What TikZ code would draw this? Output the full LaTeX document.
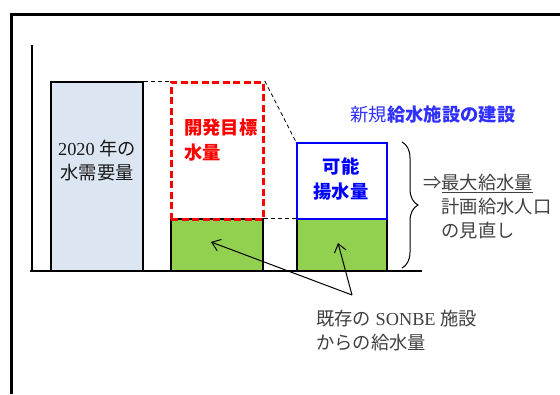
\documentclass[tikz,border=0pt]{standalone}
\usepackage{fontspec}
\newfontfamily\jp{Noto Sans CJK JP}
\newfontfamily\tnr{Liberation Serif}
\usetikzlibrary{arrows.meta,decorations.pathreplacing}
\definecolor{barblue}{HTML}{DCE6F2}
\definecolor{grn}{HTML}{92D050}
\definecolor{txtgray}{HTML}{404040}
\definecolor{hblue}{HTML}{2F2FFF}
\tikzset{
  bar/.style={draw=black, line width=2.4pt, anchor=north west, inner sep=0pt},
  conn/.style={draw=black, line width=0.8pt, dash pattern=on 4pt off 3pt},
  lbl/.style={inner sep=0pt, font=\jp\fontsize{18.3}{24}\selectfont},
  blbl/.style={inner sep=0pt, font=\jp\bfseries\fontsize{18.3}{24.5}\selectfont},
  ptr/.style={draw=black, line width=1pt, -{Straight Barb[length=8pt,width=12pt,line width=1pt]}}
}
\begin{document}
\begin{tikzpicture}[x=1pt,y=-1pt]
\useasboundingbox (0,0) rectangle (560,394);
% frame
\draw[line width=3pt] (11,394) -- (11,14) -- (560,14);
% axes
\coordinate (ax0) at (32,45);
\coordinate (ax1) at (32,271);
\coordinate (bl0) at (30,271);
\coordinate (bl1) at (422,271);
\draw[line width=2pt] (ax0) -- (ax1);
\draw[line width=2pt] (bl0) -- (bl1);
% bars
\node[bar, fill=barblue, minimum width=92pt, minimum height=189pt] (b1) at (50,81) {};
\node[bar, fill=grn, minimum width=92pt, minimum height=52pt] (g1) at (170,218) {};
\node[bar, fill=grn, minimum width=90pt, minimum height=52pt] (g2) at (296,218) {};
\node[draw=red, line width=2.8pt, dash pattern=on 7pt off 3.5pt, anchor=north west, inner sep=0pt, minimum width=92pt, minimum height=137pt] (rb) at (170,81) {};
\node[draw=blue, line width=2.4pt, anchor=north west, inner sep=0pt, minimum width=90pt, minimum height=76pt] (bb) at (296,142) {};
% dashed connectors
\draw[conn] (b1.north east) -- (rb.north west);
\draw[conn] (rb.north east) -- (bb.north west);
\draw[conn] (g1.north east) -- (g2.north west);
% texts in bars
\node[lbl, align=center, text=black!90] (t1) at (97,161) {{\tnr 2020 }年の\\水需要量};
\node[blbl, align=left, text=red, anchor=north west] (t2) at (184,119) {開発目標\\水量};
\node[blbl, align=center, text=blue] (t3) at (341,179) {可能\\揚水量};
% heading
\node[lbl, text=hblue] (h) at (433,115) {新規{\bfseries 給水施設の建設}};
% brace
\coordinate (brt) at (402,142);
\coordinate (brb) at (402,268);
\draw[line width=1pt, decorate, decoration={brace, amplitude=16pt}] (brt) -- (brb);
\node[lbl, text=txtgray, align=left, anchor=north west] (r) at (423,174) {⇒\underline{最大給水量}\\\hphantom{⇒}計画給水人口\\\hphantom{⇒}の見直し};
% arrows
\coordinate (c) at (352,295);
\coordinate (h1) at (211,242);
\coordinate (h2) at (338,243);
\draw[ptr] (c) -- (h1);
\draw[ptr] (c) -- (h2);
\node[lbl, text=txtgray, align=left, anchor=north west] (bt) at (316,310) {既存の{\tnr\ SONBE }施設\\からの給水量};
\end{tikzpicture}
\end{document}
